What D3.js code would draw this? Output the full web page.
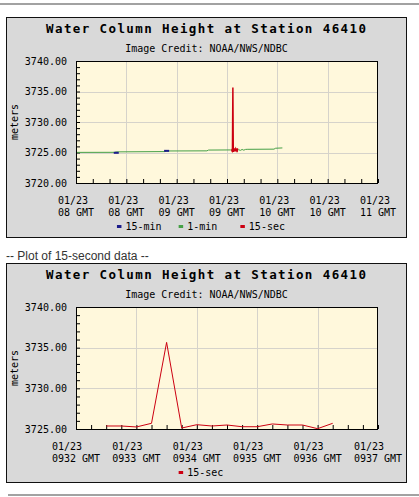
<!DOCTYPE html>
<html>
<head>
<meta charset="utf-8">
<script src="https://cdn.jsdelivr.net/npm/d3@7"></script>
<style>
    body { margin: 0; background: #fff; }
    svg { display: block; }
</style>
</head>
<body>
<svg id="page"></svg>
<script>
const day = "2024-01-23"

// 1-min readings, GMT time -> metres
const oneMinTimes = ["08:00", "08:23", "08:24", "08:53", "08:54", "09:18", "09:19", "09:32",
    "09:37", "09:38", "09:39", "09:40", "09:41", "09:42", "09:58", "09:59", "10:03"]
const oneMinValues = [3725.02, 3725.03, 3725.10, 3725.15, 3725.25, 3725.27, 3725.40, 3725.42,
    3725.45, 3725.35, 3725.50, 3725.38, 3725.50, 3725.52, 3725.55, 3725.70, 3725.75]

// 15-min readings
const fifteenMinTimes = ["08:24", "08:54"]
const fifteenMinValues = [3724.95, 3725.27]

// 15-sec readings
const fifteenSecTimes = ["09:32:30", "09:32:45", "09:33:00", "09:33:15", "09:33:30", "09:33:45",
    "09:34:00", "09:34:15", "09:34:30", "09:34:45", "09:35:00", "09:35:15", "09:35:30", "09:35:45",
    "09:36:00", "09:36:15"]
const fifteenSecValues = [3725.37, 3725.37, 3725.25, 3725.70, 3735.65, 3725.12,
    3725.53, 3725.37, 3725.49, 3725.28, 3725.28, 3725.62, 3725.49, 3725.49,
    3725.04, 3725.70]

const titleText = "Water Column Height at Station 46410"
const creditText = "Image Credit: NOAA/NWS/NDBC"
const yLabel = "meters"
const betweenText = "-- Plot of 15-second data --"

const colors = { "15-min": "#1c1c8a", "1-min": "#46a046", "15-sec": "#cc0011" }

const parseTime = t => new Date(`${day}T${t.length === 5 ? t + ":00" : t}Z`)
const toPoints = (times, values) => times.map((t, i) => ({ date: parseTime(t), value: values[i] }))

const width = 419
const height = 497
const mono = "DejaVu Sans Mono"

const svg = d3.select("#page")
    .attr("width", width)
    .attr("height", height)
    .attr("viewBox", [0, 0, width, height])

// horizontal rules of the page
svg.append("rect").attr("x", 0).attr("y", 3).attr("width", width).attr("height", 2).attr("fill", "#a2a2a2")
svg.append("rect").attr("x", 8).attr("y", 494).attr("width", width - 8).attr("height", 2).attr("fill", "#a2a2a2")

svg.append("text")
    .attr("x", 6).attr("y", 260)
    .attr("font-family", "Liberation Sans, Arial, sans-serif")
    .attr("font-size", 12)
    .attr("fill", "#333")
    .text(betweenText)

function drawPanel(top, h, opts) {
    const g = svg.append("g").attr("transform", `translate(0,${top})`)
    const plotL = 76, plotR = 378, plotT = 44, plotB = 166

    g.append("rect")
        .attr("x", 6.5).attr("y", 0.5)
        .attr("width", 400).attr("height", h)
        .attr("fill", "#d9d9d9").attr("stroke", "#111")

    g.append("text")
        .attr("x", 206 + 0.7).attr("y", 16)
        .attr("text-anchor", "middle")
        .attr("font-family", mono).attr("font-weight", "bold")
        .attr("font-size", 12.5).attr("letter-spacing", 1.4)
        .attr("fill", "#000")
        .text(titleText)

    g.append("text")
        .attr("x", 206.5).attr("y", 35)
        .attr("text-anchor", "middle")
        .attr("font-family", mono).attr("font-size", 10)
        .attr("fill", "#000")
        .text(creditText)

    const x = d3.scaleUtc().domain(opts.xDomain.map(parseTime)).range([plotL, plotR])
    const y = d3.scaleLinear().domain(opts.yDomain).range([plotB, plotT])

    g.append("rect")
        .attr("x", plotL).attr("y", plotT)
        .attr("width", plotR - plotL).attr("height", plotB - plotT)
        .attr("fill", "#fff8dc")

    // grid
    g.append("g").selectAll("line")
        .data(x.ticks(opts.gridEvery).slice(1, -1))
        .join("line")
        .attr("x1", d => Math.round(x(d)) + 0.5).attr("x2", d => Math.round(x(d)) + 0.5)
        .attr("y1", plotT).attr("y2", plotB)
        .attr("stroke", "#d6d3cb")
    g.append("g").selectAll("line")
        .data(opts.yMajor.slice(1, -1))
        .join("line")
        .attr("x1", plotL).attr("x2", plotR)
        .attr("y1", d => Math.round(y(d)) + 0.5).attr("y2", d => Math.round(y(d)) + 0.5)
        .attr("stroke", "#d6d3cb")

    // minor ticks, pointing into the plot
    const xAxis = g.append("g")
        .attr("transform", `translate(0,${plotB})`)
        .call(d3.axisBottom(x).ticks(opts.tickEvery).tickSize(-4).tickFormat(""))
    const yAxis = g.append("g")
        .attr("transform", `translate(${plotL},0)`)
        .call(d3.axisLeft(y).ticks(opts.yDomain[1] - opts.yDomain[0]).tickSize(-4).tickFormat(""))
    xAxis.select(".domain").remove()
    yAxis.select(".domain").remove()
    g.selectAll(".tick line").attr("stroke", "#000")

    // y labels
    g.append("g").selectAll("text")
        .data(opts.yMajor)
        .join("text")
        .attr("x", plotL - 9).attr("y", d => y(d))
        .attr("dy", "0.35em")
        .attr("text-anchor", "end")
        .attr("font-family", mono).attr("font-size", 10)
        .text(d3.format(".2f"))

    g.append("text")
        .attr("transform", `translate(18,${(plotT + plotB) / 2}) rotate(-90)`)
        .attr("text-anchor", "middle")
        .attr("font-family", mono).attr("font-size", 10)
        .text(yLabel)

    // x labels, two lines left aligned on the wider one
    const charW = 6.02
    const xl = g.append("g").selectAll("text")
        .data(x.ticks(opts.gridEvery))
        .join("text")
        .attr("font-family", mono).attr("font-size", 10)
    xl.each(function (d) {
        const l1 = opts.fmtTop(d), l2 = opts.fmtBottom(d)
        const left = x(d) - Math.max(l1.length, l2.length) * charW / 2
        const t = d3.select(this)
        t.append("tspan").attr("x", left).attr("y", 186.5).text(l1)
        t.append("tspan").attr("x", left).attr("y", 199).text(l2)
    })

    // series
    const line = d3.line().x(d => x(d.date)).y(d => y(d.value))
    opts.series.forEach(s => {
        if (s.kind === "mark") {
            g.append("g").selectAll("rect")
                .data(s.data)
                .join("rect")
                .attr("x", d => x(d.date) - 2.5).attr("y", d => y(d.value) - 1)
                .attr("width", 5).attr("height", 2)
                .attr("fill", colors[s.name])
        } else {
            g.append("path")
                .datum(s.data)
                .attr("d", line)
                .attr("fill", "none")
                .attr("stroke", colors[s.name])
                .attr("stroke-width", s.width)
        }
    })

    g.append("rect")
        .attr("x", plotL + 0.5).attr("y", plotT + 0.5)
        .attr("width", plotR - plotL - 1).attr("height", plotB - plotT)
        .attr("fill", "none").attr("stroke", "#000")

    // legend
    const cellW = 61.7
    const start = 209.5 - opts.legend.length * cellW / 2
    const lg = g.append("g").selectAll("g")
        .data(opts.legend)
        .join("g")
        .attr("transform", (d, i) => `translate(${start + i * cellW},0)`)
    lg.append("rect")
        .attr("x", 0).attr("y", 208)
        .attr("width", 4.5).attr("height", 3)
        .attr("fill", d => colors[d])
    lg.append("text")
        .attr("x", 8.5).attr("y", 213)
        .attr("font-family", mono).attr("font-size", 10)
        .text(d => d)
}

drawPanel(17, 220, {
    xDomain: ["08:00", "11:00"],
    yDomain: [3720, 3740],
    yMajor: [3720, 3725, 3730, 3735, 3740],
    gridEvery: d3.utcMinute.every(30),
    tickEvery: d3.utcMinute.every(10),
    fmtTop: d3.utcFormat("%m/%d"),
    fmtBottom: d3.utcFormat("%H GMT"),
    legend: ["15-min", "1-min", "15-sec"],
    series: [
        { name: "1-min", kind: "line", width: 1, data: toPoints(oneMinTimes, oneMinValues) },
        { name: "15-min", kind: "mark", data: toPoints(fifteenMinTimes, fifteenMinValues) },
        { name: "15-sec", kind: "line", width: 1.5, data: toPoints(fifteenSecTimes, fifteenSecValues) }
    ]
})

drawPanel(263, 219, {
    xDomain: ["09:32", "09:37"],
    yDomain: [3725, 3740],
    yMajor: [3725, 3730, 3735, 3740],
    gridEvery: d3.utcMinute.every(1),
    tickEvery: d3.utcSecond.every(15),
    fmtTop: d3.utcFormat("%m/%d"),
    fmtBottom: d3.utcFormat("%H%M GMT"),
    legend: ["15-sec"],
    series: [
        { name: "15-sec", kind: "line", width: 1, data: toPoints(fifteenSecTimes, fifteenSecValues) }
    ]
})
</script>
</body>
</html>
